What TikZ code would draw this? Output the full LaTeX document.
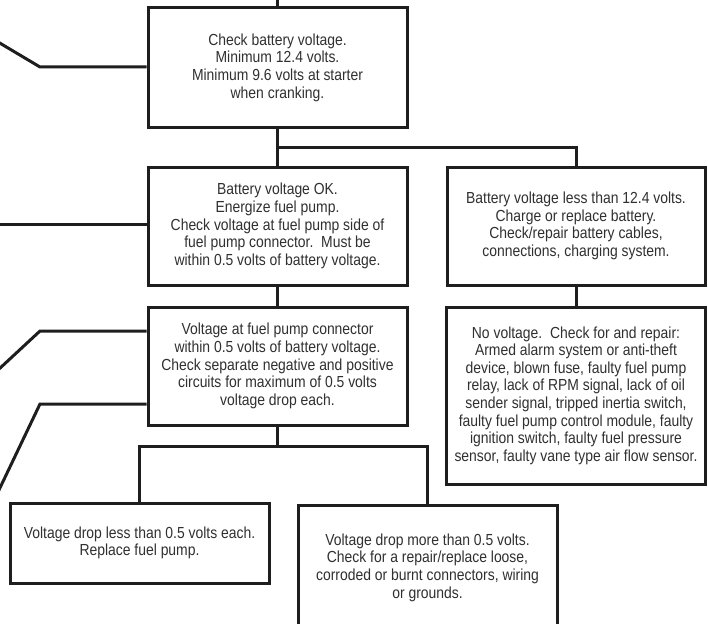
\documentclass[tikz,border=0pt]{standalone}
\usepackage{fontspec}
\setmainfont[FakeStretch=0.87]{Liberation Sans}
\definecolor{linec}{HTML}{1E1E1E}
\definecolor{textc}{HTML}{303030}
\begin{document}
\begin{tikzpicture}[x=1pt,y=-1pt,
  box/.style={draw=linec, line width=3pt, fill=white, align=center, inner sep=0pt,
    font=\fontsize{16}{17.6}\selectfont, text=textc},
  conn/.style={draw=linec, line width=3pt, line join=miter}]
\useasboundingbox (0,0) rectangle (708,623);
\clip (0,0) rectangle (708,623);
% boxes
\node[box, minimum width=259pt, minimum height=119pt] (b1) at (277.5,67.5)
  {Check battery voltage.\\Minimum 12.4 volts.\\Minimum 9.6 volts at starter\\when cranking.};
\node[box, minimum width=259pt, minimum height=118pt] (b2) at (277.5,226)
  {Battery voltage OK.\\Energize fuel pump.\\Check voltage at fuel pump side of\\fuel pump connector.\ \ Must be\\within 0.5 volts of battery voltage.};
\node[box, minimum width=258pt, minimum height=118pt] (b3) at (576,226)
  {Battery voltage less than 12.4 volts.\\Charge or replace battery.\\Check/repair battery cables,\\connections, charging system.};
\node[box, minimum width=259pt, minimum height=118pt] (b4) at (277.5,366)
  {Voltage at fuel pump connector\\within 0.5 volts of battery voltage.\\Check separate negative and positive\\circuits for maximum of 0.5 volts\\voltage drop each.};
\node[box, minimum width=259pt, minimum height=177pt] (b5) at (576,395.5)
  {No voltage.\ \ Check for and repair:\\Armed alarm system or anti-theft\\device, blown fuse, faulty fuel pump\\relay, lack of RPM signal, lack of oil\\sender signal, tripped inertia switch,\\faulty fuel pump control module, faulty\\ignition switch, faulty fuel pressure\\sensor, faulty vane type air flow sensor.};
\node[box, minimum width=259pt, minimum height=80pt] (b6) at (139.5,543)
  {Voltage drop less than 0.5 volts each.\\Replace fuel pump.};
\node[box, minimum width=259pt, minimum height=124pt, anchor=north] (b7) at (427.5,504)
  {Voltage drop more than 0.5 volts.\\Check for a repair/replace loose,\\corroded or burnt connectors, wiring\\or grounds.};
% junction coordinates
\coordinate (top) at (277.5,-2);
\coordinate (j1) at (0,147);
\coordinate (j2) at (0,446);
\coordinate (la0) at (-2,42);
\coordinate (la1) at (40,67);
\coordinate (lb0) at (-2,224);
\coordinate (lc1) at (40,331);
\coordinate (lc0) at (-2,370);
\coordinate (ld1) at (40,404);
\coordinate (ld0) at (-2,492);
% connectors
\draw[conn] (b1.north) -- (top);
\draw[conn] (b1.south) -- (b2.north);
\draw[conn] (b1.south |- j1) -| (b3.north);
\draw[conn] (b2.south) -- (b4.north);
\draw[conn] (b3.south) -- (b5.north);
\draw[conn] (b4.south) -- (b4.south |- j2);
\draw[conn] (b6.north) |- (b4.south |- j2) -| (b7.north);
% left-edge leads
\draw[conn] (la0) -- (la1) -- (la1 -| b1.west);
\draw[conn] (lb0) -- (lb0 -| b2.west);
\draw[conn] (lc0) -- (lc1) -- (lc1 -| b4.west);
\draw[conn] (ld0) -- (ld1) -- (ld1 -| b4.west);
\end{tikzpicture}
\end{document}
